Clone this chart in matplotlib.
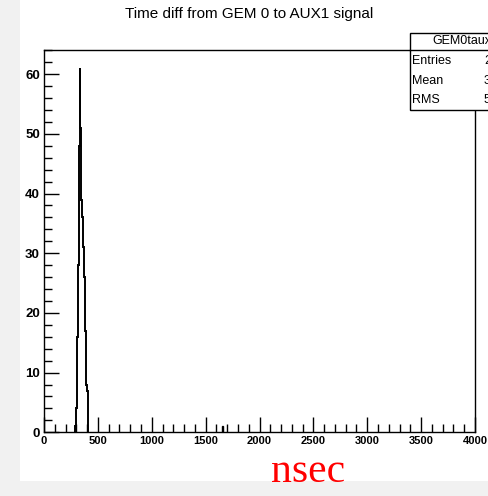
#!/usr/bin/env python3

# Time difference histogram, GEM 0 -> AUX1 (ROOT style canvas)

import matplotlib
matplotlib.use('Agg')
import matplotlib.pyplot as plt
from matplotlib.patches import Rectangle
from matplotlib.ticker import MultipleLocator

# DATA
bin_start = 290
bin_width = 8
counts = [1, 4, 16, 28, 48, 61, 51, 39, 36, 31, 26, 17, 12, 8, 7]
stray_edges = [1652, 1664]
stray_counts = [1]

title = "Time diff from GEM 0 to AUX1 signal"
stats_name = "GEM0taux"
stats_rows = [("Entries", "285"), ("Mean", "349.6"), ("RMS", "51.27")]
x_range = (0, 4000)
y_range = (0, 64.05)


def main():
    fig = plt.figure(figsize=(4.88, 4.96), dpi=100, facecolor='#f1f1f1')
    W, H = 488.0, 496.0

    # white canvas on the textured slide background
    fig.patches.append(Rectangle((20 / W, 1 - 481 / H), 1, 481 / H,
                                 transform=fig.transFigure, facecolor='white',
                                 edgecolor='none', zorder=0))

    ax = fig.add_axes([44 / W, 1 - 432.3 / H, (475 - 44) / W, (432.3 - 50) / H])
    ax.set_zorder(2)
    ax.set_facecolor('white')

    edges = [bin_start + i * bin_width for i in range(len(counts) + 1)]
    ax.stairs(counts, edges, color='black', lw=1.4)
    ax.stairs(stray_counts, stray_edges, color='black', lw=1.0)

    ax.set_xlim(*x_range)
    ax.set_ylim(*y_range)

    ax.xaxis.set_major_locator(MultipleLocator(500))
    ax.xaxis.set_minor_locator(MultipleLocator(100))
    ax.yaxis.set_major_locator(MultipleLocator(10))
    ax.yaxis.set_minor_locator(MultipleLocator(2))
    ax.tick_params(which='major', direction='in', length=11, width=1, top=False, right=False)
    ax.tick_params(which='minor', direction='in', length=6, width=1, top=False, right=False)
    ax.tick_params(axis='x', which='major', pad=2.5)
    ax.tick_params(axis='y', which='major', pad=3)
    for lab in ax.get_xticklabels():
        lab.set_fontfamily('Liberation Sans')
        lab.set_fontweight('bold')
        lab.set_fontsize(8)
    for lab in ax.get_yticklabels():
        lab.set_fontfamily('Liberation Sans')
        lab.set_fontweight('bold')
        lab.set_fontsize(9.5)
    for sp in ax.spines.values():
        sp.set_linewidth(1.0)

    fig.text(249 / W, 1 - 14 / H, title, ha='center', va='center',
             fontsize=11, family='Liberation Sans')

    # stats box, running off the right edge of the canvas
    bx0, by0, bx1, by1 = 410, 33, 520, 110
    box = Rectangle((bx0 / W, 1 - by1 / H), (bx1 - bx0) / W, (by1 - by0) / H,
                    transform=fig.transFigure, facecolor='white',
                    edgecolor='black', lw=1.0, zorder=5)
    fig.patches.append(box)
    fig.add_artist(plt.Line2D([bx0 / W, bx1 / W], [1 - 50 / H, 1 - 50 / H],
                              transform=fig.transFigure, color='black', lw=1.0, zorder=6))
    fig.text(432 / W, 1 - 41.5 / H, stats_name, ha='left', va='center',
             fontsize=9, family='Liberation Sans', zorder=7)
    for i, (name, val) in enumerate(stats_rows):
        y = 1 - (61 + i * 19.5) / H
        fig.text(412 / W, y, name, ha='left', va='center', fontsize=9,
                 family='Liberation Sans', zorder=7)
        fig.text(484 / W, y, val, ha='left', va='center', fontsize=9,
                 family='Liberation Sans', zorder=7)

    fig.text(308 / W, 1 - 472 / H, "nsec", ha='center', va='center', color='red',
             fontsize=30, family='Liberation Serif')

    fig.savefig('out.png', dpi=100, facecolor=fig.get_facecolor())


if __name__ == "__main__":
    main()
